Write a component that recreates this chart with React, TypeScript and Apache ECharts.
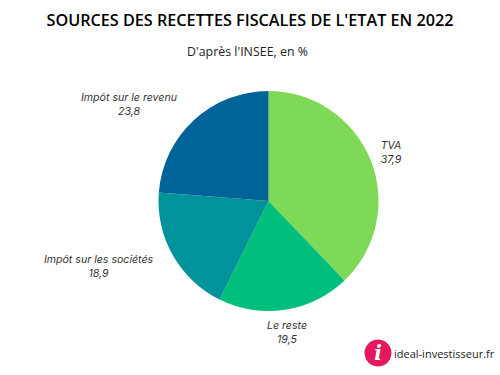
import React, { useEffect, useRef } from "react";
import * as echarts from "echarts";

const names = ["TVA", "Le reste", "Impôt sur les sociétés", "Impôt sur le revenu"];
const values = [37.9, 19.5, 18.9, 23.8];
const valueTexts = ["37,9", "19,5", "18,9", "23,8"];
const colors = ["#7ED957", "#00BF7D", "#00939B", "#006498"];
const labelCenters = [[391, 152], [287, 332], [98.5, 266], [129, 104]];

export default function App() {
  const ref = useRef<HTMLDivElement>(null);
  useEffect(() => {
    const chart = echarts.init(ref.current!, null, { renderer: "svg" });
    chart.setOption({
      animation: false,
      backgroundColor: "#ffffff",
      title: [
        {
          text: "SOURCES DES RECETTES FISCALES DE L'ETAT EN 2022",
          left: "center",
          top: 7,
          textStyle: { fontFamily: "Open Sans", fontSize: 16.2, fontWeight: 600, color: "#000000" },
        },
        {
          text: "D'après l'INSEE, en %",
          left: 182,
          top: 40,
          textStyle: { fontFamily: "Open Sans", fontSize: 12.4, fontWeight: 400, color: "#222222" },
        },
      ],
      series: [
        {
          type: "pie",
          center: [268.5, 201],
          radius: [0, 110],
          startAngle: 90,
          clockwise: true,
          data: names.map((name, i) => ({
            name,
            value: values[i],
            itemStyle: { color: colors[i] },
          })),
          label: {
            show: true,
            position: "outside",
            formatter: (p: any) => `${p.name}\n${valueTexts[p.dataIndex]}`,
            fontFamily: "Inter",
            fontStyle: "italic",
            fontSize: 10.6,
            lineHeight: 14,
            color: "#333333",
            align: "center",
          },
          labelLine: { show: false },
          labelLayout: (p: any) => ({
            x: labelCenters[p.dataIndex][0],
            y: labelCenters[p.dataIndex][1],
            align: "center",
            verticalAlign: "middle",
          }),
          emphasis: { disabled: true },
        },
      ],
      graphic: [
        { type: "circle", shape: { cx: 378, cy: 353, r: 13.5 }, style: { fill: "#E3185F" } },
        {
          type: "text",
          x: 378,
          y: 353,
          style: {
            text: "i",
            fill: "#ffffff",
            fontFamily: "DejaVu Serif",
            fontStyle: "italic",
            fontWeight: "bold",
            fontSize: 20,
            align: "center",
            verticalAlign: "middle",
          },
        },
        {
          type: "text",
          x: 394,
          y: 353,
          style: {
            text: "ideal-investisseur.fr",
            fill: "#222222",
            fontFamily: "Open Sans",
            fontSize: 11,
            align: "left",
            verticalAlign: "middle",
          },
        },
      ],
    });
    return () => chart.dispose();
  }, []);
  return <div ref={ref} style={{ position: "absolute", left: 0, top: 0, width: 500, height: 375 }} />;
}
